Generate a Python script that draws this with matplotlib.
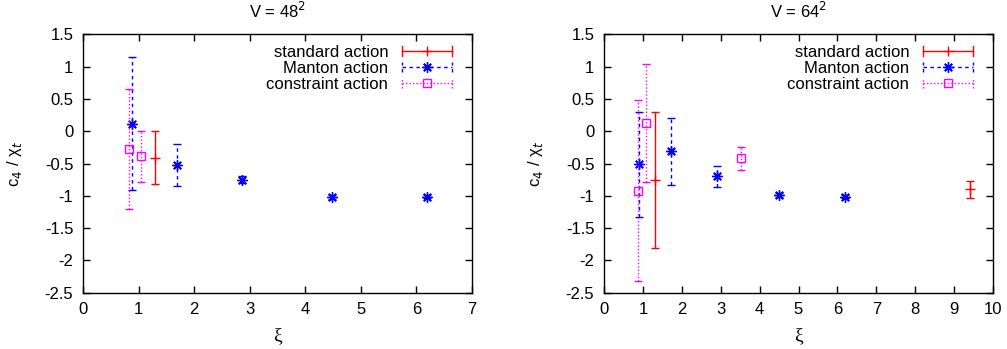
import numpy as np
import matplotlib
matplotlib.use("Agg")
import matplotlib.pyplot as plt
from matplotlib.lines import Line2D
from matplotlib.legend_handler import HandlerBase

plt.rcParams['font.family'] = ['Liberation Sans', 'DejaVu Sans']
plt.rcParams['axes.unicode_minus'] = False
plt.rcParams['font.size'] = 12

# V = 48^2
l_std_x = [1.30]
l_std_y = [-0.41]
l_std_e = [0.41]
l_man_x = [0.89, 1.69, 2.87, 4.48, 6.19]
l_man_y = [0.12, -0.52, -0.75, -1.02, -1.01]
l_man_e = [1.03, 0.32, 0.05, 0.03, 0.03]
l_con_x = [0.83, 1.04]
l_con_y = [-0.28, -0.39]
l_con_e = [0.93, 0.39]

# V = 64^2
r_std_x = [1.32, 9.40]
r_std_y = [-0.75, -0.90]
r_std_e = [1.05, 0.13]
r_man_x = [0.91, 1.73, 2.91, 4.49, 6.20]
r_man_y = [-0.51, -0.31, -0.70, -0.98, -1.01]
r_man_e = [0.81, 0.52, 0.165, 0.03, 0.03]
r_con_x = [0.87, 1.07, 3.51]
r_con_y = [-0.92, 0.13, -0.42]
r_con_e = [1.40, 0.91, 0.175]

titles = ['V = 48$^2$', 'V = 64$^2$']
xlims = [7, 10]
labels = ['standard action', 'Manton action', 'constraint action']

red, blue, mag = '#ff0000', '#0000ff', '#ff00ff'
asterisk = (8, 2, 0)
dash = (0, (2.5, 2.5))
dot = (0, (1, 1.5))

styles = [
    dict(color=red, ls='-', marker='+', mfc=red, ms=7),
    dict(color=blue, ls=dash, marker=asterisk, mfc=blue, ms=7.5),
    dict(color=mag, ls=dot, marker='s', mfc='none', ms=6),
]


class ErrHandler(HandlerBase):
    def create_artists(self, legend, orig_handle, xdescent, ydescent,
                       width, height, fontsize, trans):
        st = orig_handle.st
        y = height / 2 - ydescent
        x0, x1 = -xdescent, -xdescent + width
        h = 3.5
        arts = [
            Line2D([x0, x1], [y, y], color=st['color'], ls=st['ls'], lw=1),
            Line2D([x0, x0], [y - h, y + h], color=st['color'], ls=st['ls'], lw=1),
            Line2D([x1, x1], [y - h, y + h], color=st['color'], ls=st['ls'], lw=1),
            Line2D([(x0 + x1) / 2], [y], color=st['color'], ls='none',
                   marker=st['marker'], mfc=st['mfc'], ms=st['ms'], mew=1),
        ]
        for a in arts:
            a.set_transform(trans)
        return arts


class Proxy:
    def __init__(self, st):
        self.st = st


fig = plt.figure(figsize=(10.07, 3.49), dpi=100)
ax1 = fig.add_axes([0.0824, 0.1613, 0.3863, 0.740])
ax2 = fig.add_axes([0.5998, 0.1613, 0.3863, 0.740])


def draw(ax, sets, title, xmax):
    for (x, y, e), st in zip(sets, styles):
        eb = ax.errorbar(x, y, yerr=e, fmt='none', ecolor=st['color'],
                         elinewidth=1, capsize=3, capthick=1)
        eb[2][0].set_linestyle(st['ls'])
        ax.plot(x, y, ls='none', marker=st['marker'], color=st['color'],
                mfc=st['mfc'], ms=st['ms'], mew=1)

    ax.set_xlim(0, xmax)
    ax.set_ylim(-2.5, 1.5)
    ax.set_xticks(np.arange(0, xmax + 1, 1))
    yt = np.arange(-2.5, 1.51, 0.5)
    ax.set_yticks(yt)
    ax.set_yticklabels(['%g' % v for v in yt])
    ax.tick_params(direction='in', top=True, right=True, length=5,
                   width=1, pad=7, labelsize=12)
    for s in ax.spines.values():
        s.set_linewidth(1)
    ax.set_title(title, fontsize=12, pad=12)
    ax.set_xlabel('ξ', fontsize=14, labelpad=7,
                  family=['Liberation Serif', 'DejaVu Serif'])
    ax.set_ylabel('c$_4$ / χ$_t$', fontsize=12, labelpad=15)

    proxies = [Proxy(st) for st in styles]
    ax.legend(proxies, labels, loc='upper right', bbox_to_anchor=(0.952, 0.965),
              frameon=False, markerfirst=False, handlelength=3.0,
              handletextpad=0.8, labelspacing=0.05, borderaxespad=0,
              borderpad=0.1, fontsize=12, handler_map={Proxy: ErrHandler()})


draw(ax1, [(l_std_x, l_std_y, l_std_e), (l_man_x, l_man_y, l_man_e),
           (l_con_x, l_con_y, l_con_e)], titles[0], xlims[0])
draw(ax2, [(r_std_x, r_std_y, r_std_e), (r_man_x, r_man_y, r_man_e),
           (r_con_x, r_con_y, r_con_e)], titles[1], xlims[1])

fig.savefig('out.png', dpi=100)
